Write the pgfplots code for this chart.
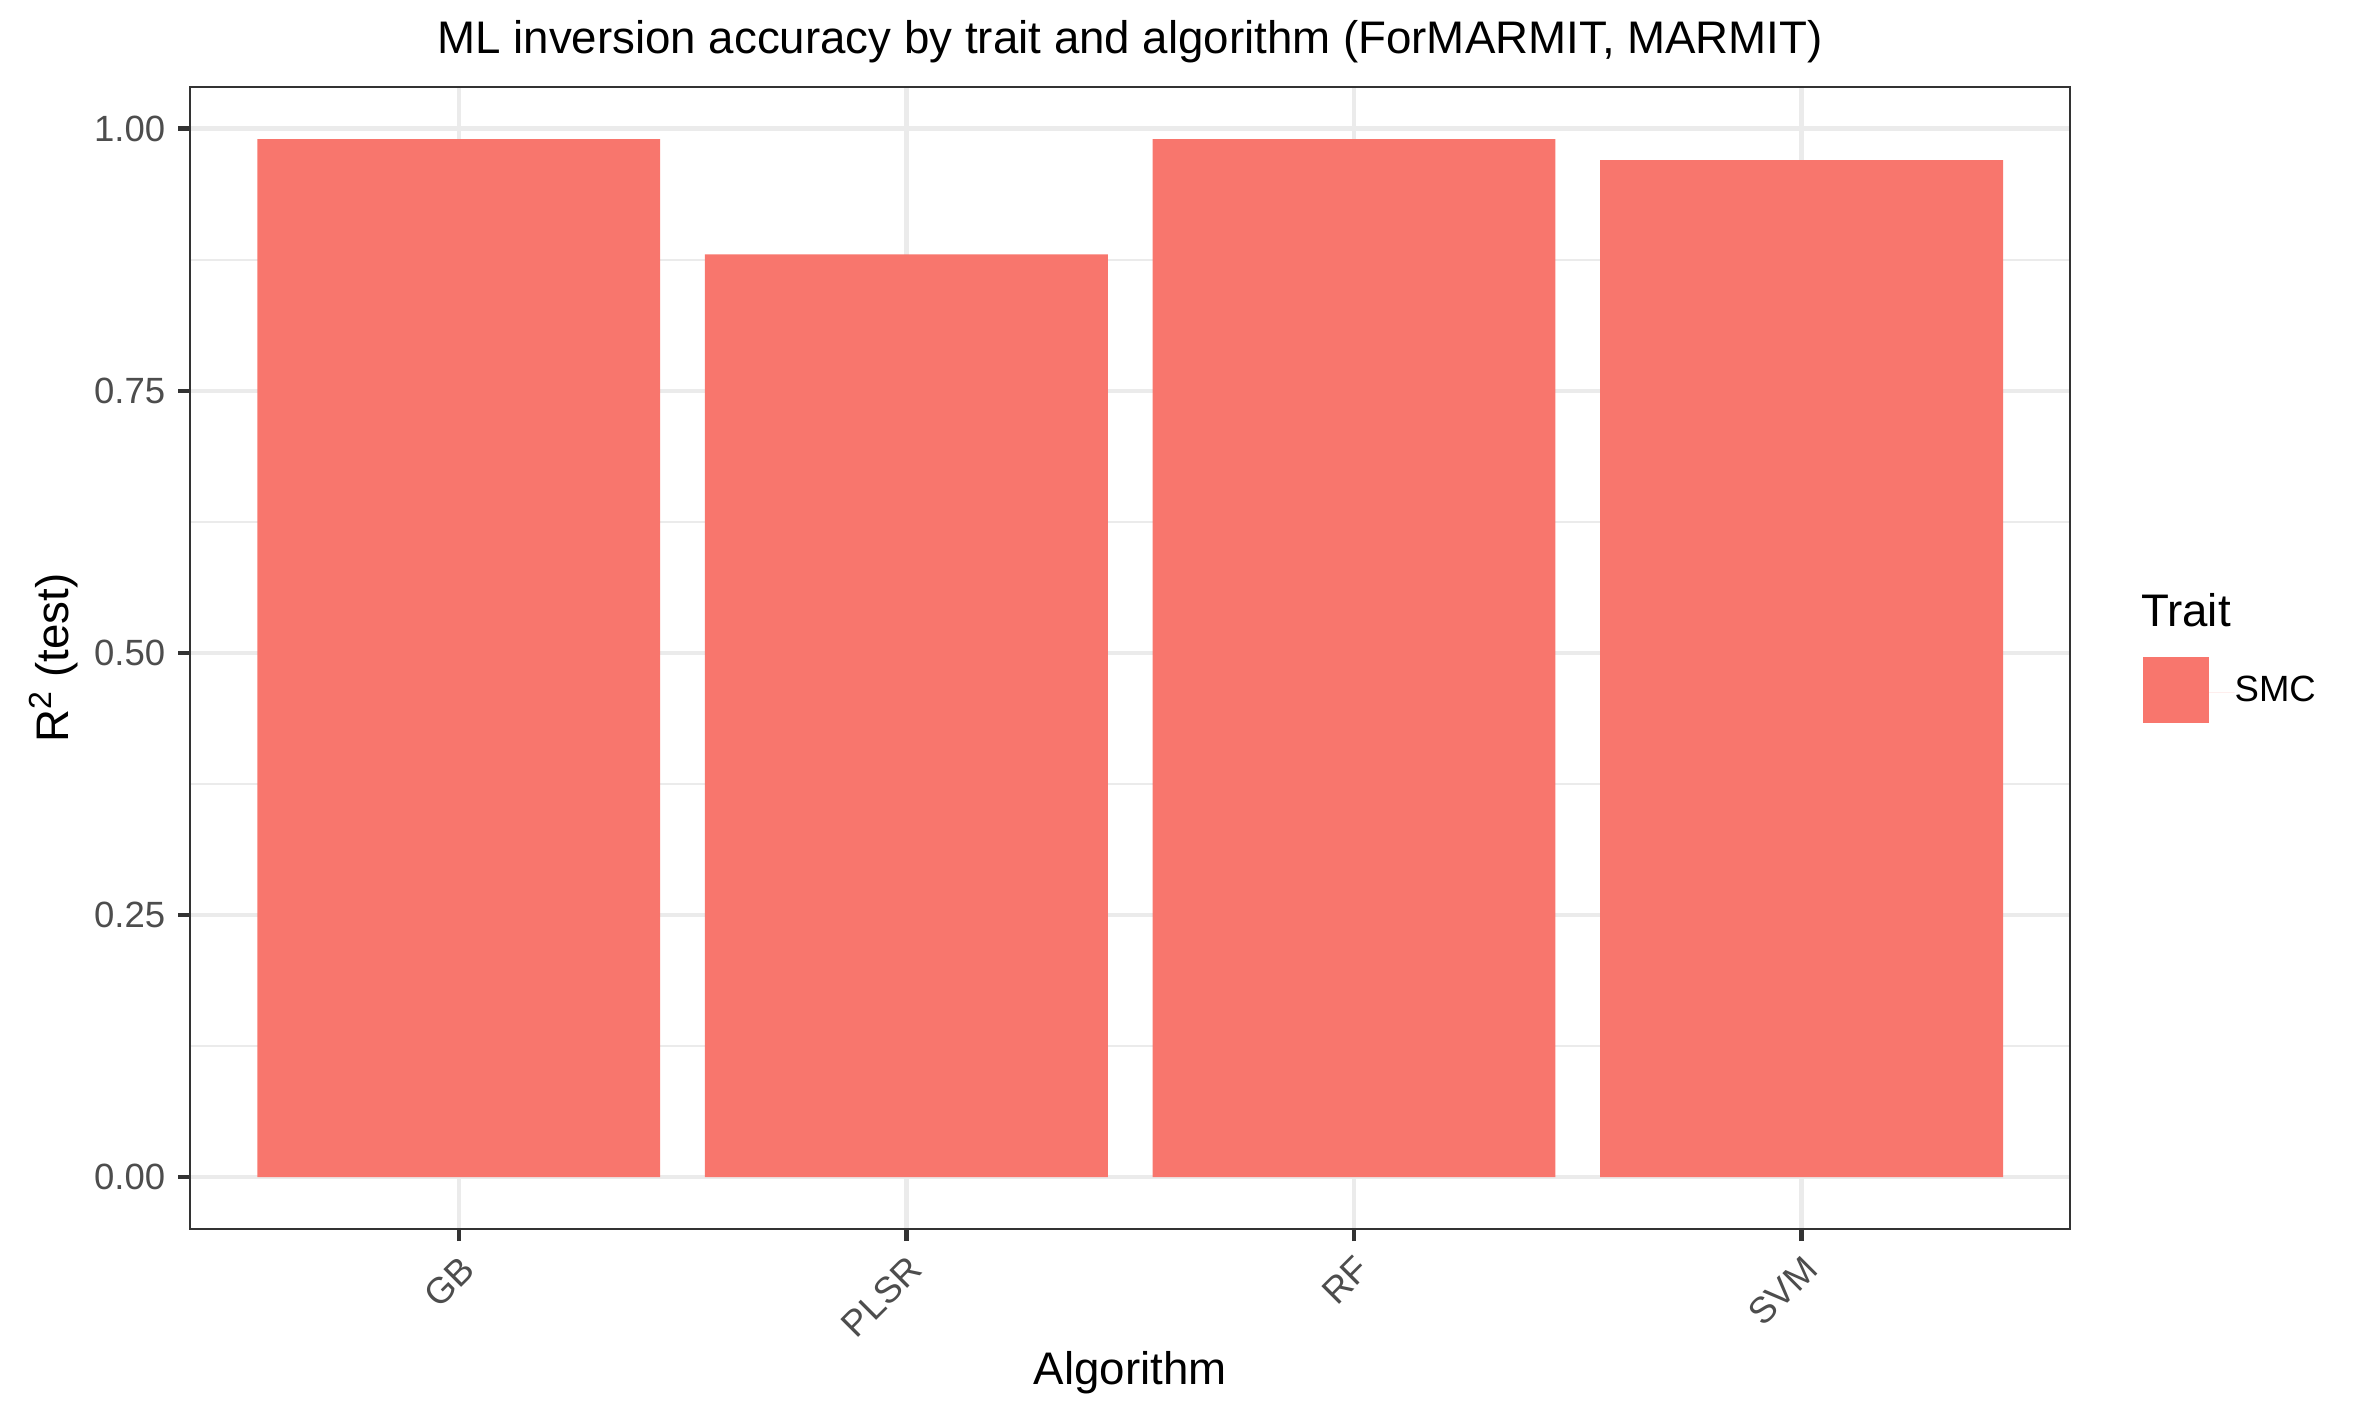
\documentclass[border=0pt]{standalone}
\usepackage{fontspec}
\setmainfont{Liberation Sans}
\usepackage{pgfplots}
\pgfplotsset{compat=1.18}

\definecolor{barred}{HTML}{F8766D}
\definecolor{gridgrey}{HTML}{EBEBEB}
\definecolor{grey20}{HTML}{333333}
\definecolor{grey30}{HTML}{4D4D4D}

\begin{document}
\begin{tikzpicture}
% page size: 20cm x 12cm at 300 dpi
\useasboundingbox (0,0) rectangle (569.0pt,341.4pt);
\begin{axis}[%
  at={(45.8pt,45.3pt)}, anchor=south west,
  scale only axis,
  width=452.9pt, height=275.1pt,
  clip=false,
  ybar,
  xmin=0.4, xmax=4.6,
  ymin=-0.0495, ymax=1.0395,
  % x axis
  xtick={1,2,3,4},
  xticklabels={GB,PLSR,RF,SVM},
  xticklabel style={font=\fontsize{8.8}{10}\selectfont, text=grey30,
    rotate=45, anchor=north east, inner sep=0pt},
  xticklabel shift=2.8pt,
  xlabel={Algorithm},
  xlabel style={at={(axis description cs:0.5,-0.1363)}, anchor=base,
    inner sep=0pt, font=\fontsize{11}{13}\selectfont},
  % y axis
  ytick={0,0.25,0.5,0.75,1},
  yticklabels={0.00,0.25,0.50,0.75,1.00},
  minor ytick={0.125,0.375,0.625,0.875},
  yticklabel style={font=\fontsize{8.8}{10}\selectfont, text=grey30,
    anchor=east, inner sep=0pt},
  yticklabel shift=2.9pt,
  ylabel={R\textsuperscript{2} (test)},
  ylabel style={at={(axis description cs:-0.0649,0.5)}, anchor=base,
    inner sep=0pt, font=\fontsize{11}{13}\selectfont},
  % grid, ticks, frame
  grid=both,
  major grid style={gridgrey, line width=1.05pt},
  minor grid style={gridgrey, line width=0.55pt},
  tick pos=left,
  tick align=outside,
  major tick length=2.9pt,
  minor tick length=0pt,
  major tick style={grey20, line width=1.05pt},
  axis line style={grey20, line width=0.55pt},
  % legend
  legend style={at={(axis description cs:1.0389,0.4722)}, anchor=west,
    draw=none, fill=none, inner sep=0pt, outer sep=0pt,
    font=\fontsize{8.8}{10}\selectfont, nodes={inner sep=0pt}},
  legend cell align=left,
]
\addplot[fill=barred, draw=none, bar width=0.9,
  legend image code/.code={%
    \fill[barred] (0pt,-7.4pt) rectangle (15.9pt,8.5pt);
    \path (0pt,0pt) -- (22.0pt,0pt);}]
  coordinates {
  (1, 0.99)
  (2, 0.88)
  (3, 0.99)
  (4, 0.97)
};
\addlegendentry{SMC}
% title and legend title
\node[anchor=base, inner sep=0pt, font=\fontsize{11}{13}\selectfont]
  at (axis description cs:0.5,1.0298)
  {ML inversion accuracy by trait and algorithm (ForMARMIT, MARMIT)};
\node[anchor=base west, inner sep=0pt, font=\fontsize{11}{13}\selectfont]
  at (axis description cs:1.0373,0.5274) {Trait};
\end{axis}
\end{tikzpicture}
\end{document}
